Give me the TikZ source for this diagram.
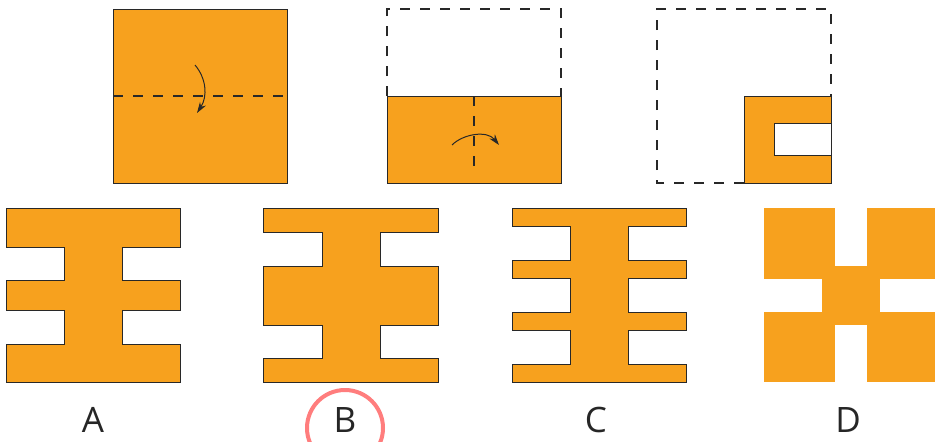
\documentclass[tikz,border=0pt]{standalone}
\usepackage{fontspec}
\setmainfont{Open Sans}
\usetikzlibrary{arrows.meta}
\definecolor{paper}{RGB}{247,161,30}
\definecolor{edge}{RGB}{40,40,40}
\definecolor{ring}{RGB}{255,125,125}
\tikzset{
  sheet/.style={fill=paper, draw=edge, line width=0.9pt},
  fold/.style={draw=edge, line width=1.1pt, dash pattern=on 10pt off 10pt},
  turn/.style={draw=edge, line width=1pt, -{Stealth[length=11pt,width=7pt]}},
  choice/.style={font=\fontsize{35}{40}\selectfont, text=black!85, inner sep=0pt},
}

\begin{document}
\begin{tikzpicture}[x=1pt, y=-1pt]
  \useasboundingbox (0,0) rectangle (935,442);
  % step 1: whole sheet, fold down
  \path[sheet] (113,9) rectangle (287,183);
  \draw[fold] (113,96) -- (287,96);
  \draw[turn] (195,65) .. controls (206,78) and (208,96) .. (197,113);
  % step 2: half sheet, fold right
  \draw[fold] (387,96) -- (387,9) -- (561,9) -- (561,96);
  \path[sheet] (387,96) rectangle (561,183);
  \draw[fold] (474,96) -- (474,175);
  \draw[turn] (452,145) .. controls (463,134) and (487,130) .. (499,145);
  % step 3: quarter sheet with cut
  \draw[fold] (744,183) -- (657,183) -- (657,9) -- (831,9) -- (831,96);
  \path[sheet] (744,96) rectangle (831,183);
  \filldraw[fill=white, draw=edge, line width=0.9pt] (774,123) rectangle (831,155);
  % option A
  \path[sheet] (6,208) -- (180,208) -- (180,247) -- (122,247) -- (122,280) -- (180,280)
    -- (180,310) -- (122,310) -- (122,344) -- (180,344) -- (180,382) -- (6,382)
    -- (6,344) -- (64,344) -- (64,310) -- (6,310) -- (6,280) -- (64,280)
    -- (64,247) -- (6,247) -- cycle;
  % option B
  \path[sheet] (263,208) -- (438,208) -- (438,232) -- (380,232) -- (380,266) -- (438,266)
    -- (438,325) -- (380,325) -- (380,358) -- (438,358) -- (438,382) -- (263,382)
    -- (263,358) -- (322,358) -- (322,325) -- (263,325) -- (263,266) -- (322,266)
    -- (322,232) -- (263,232) -- cycle;
  % option C
  \path[sheet] (512,208) -- (686,208) -- (686,226) -- (628,226) -- (628,260) -- (686,260)
    -- (686,278) -- (628,278) -- (628,312) -- (686,312) -- (686,330) -- (628,330)
    -- (628,364) -- (686,364) -- (686,382) -- (512,382) -- (512,364) -- (570,364)
    -- (570,330) -- (512,330) -- (512,312) -- (570,312) -- (570,278) -- (512,278)
    -- (512,260) -- (570,260) -- (570,226) -- (512,226) -- cycle;
  % option D
  \fill[paper] (764,208) rectangle (935,382);
  \fill[white] (835,208) rectangle (867,266);
  \fill[white] (835,325) rectangle (867,382);
  \fill[white] (764,279) rectangle (822,312);
  \fill[white] (880,279) rectangle (935,312);
  % labels
  \node[choice] (optA) at (93,420) {A};
  \node[choice] (optB) at (345,420) {B};
  \node[choice] (optC) at (596,420) {C};
  \node[choice] (optD) at (848,420) {D};
  % answer
  \coordinate (mark) at (345,428);
  \draw[ring, line width=4pt] (mark) circle[radius=38pt];
\end{tikzpicture}
\end{document}
